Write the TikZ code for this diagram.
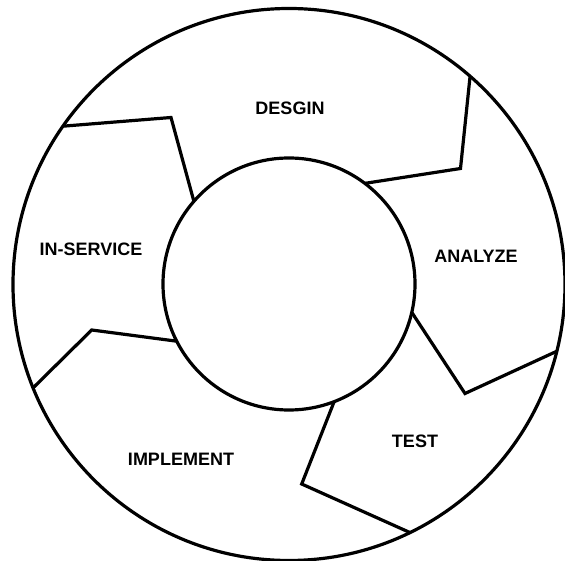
\documentclass[tikz,border=0pt]{standalone}
\usepackage{fontspec}
\setmainfont{Liberation Sans}
\tikzset{
  wheel/.style   = {draw, circle, line width=3.2pt, inner sep=0pt, outer sep=0pt},
  divider/.style = {line width=3.2pt},
  phase/.style   = {font=\fontsize{18}{20}\selectfont\bfseries}
}

\begin{document}
\begin{tikzpicture}[x=1pt, y=1pt]
      \useasboundingbox (-289,-276.5) rectangle (276,284.5);
      \node[wheel, minimum size=552pt] (ring) at (0,0) {};
      \node[wheel, minimum size=252pt] (hub) at (0,0.5) {};
      % kinks of the dividers
      \coordinate (c1) at (-118,167);
      \coordinate (c2) at (171.5,116);
      \coordinate (c3) at (176,-109);
      \coordinate (c4) at (12.7,-199.5);
      \coordinate (c5) at (-197.3,-45.5);
      \draw[divider] (ring.145.9) -- (c1) -- (hub.139.7);
      \draw[divider] (ring.49.9) -- (c2) -- (hub.53.5);
      \draw[divider] (hub.-13.1) -- (c3) -- (ring.-14.8);
      \draw[divider] (hub.-69.3) -- (c4) -- (ring.-64.9);
      \draw[divider] (hub.207.8) -- (c5) -- (ring.202.6);
      % phase labels
      \node[phase] (design) at (1,176.5) {DESGIN};
      \node[phase] (analyze) at (187,28.5) {ANALYZE};
      \node[phase] (test) at (126,-156.5) {TEST};
      \node[phase] (implement) at (-108,-174.5) {IMPLEMENT};
      \node[phase] (inservice) at (-198,35.5) {IN-SERVICE};
    \end{tikzpicture}
\end{document}
